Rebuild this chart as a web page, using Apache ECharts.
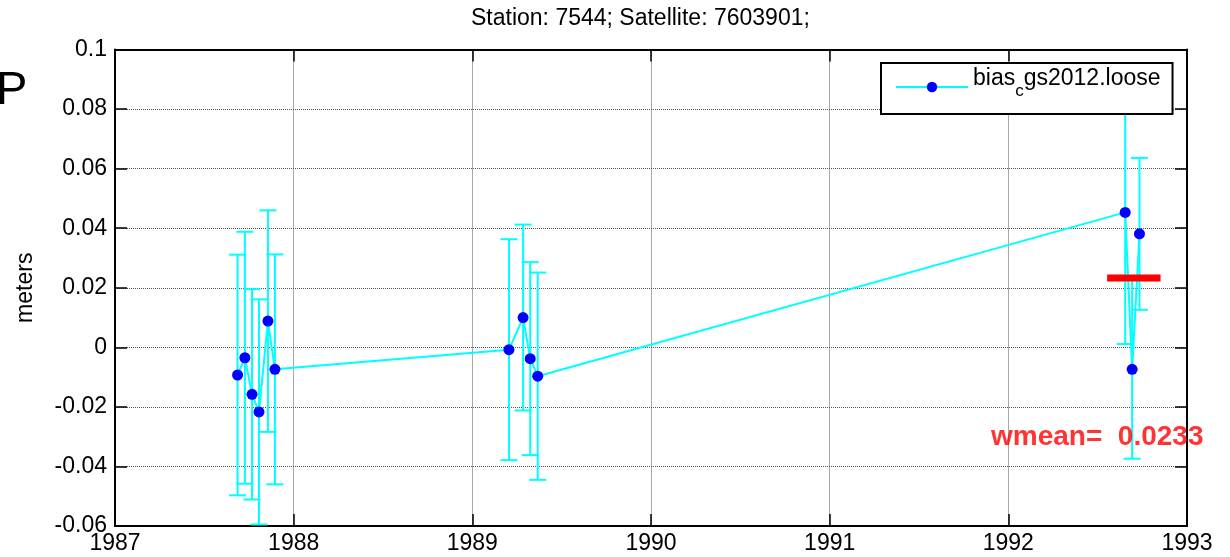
<!DOCTYPE html>
<html>
<head>
<meta charset="utf-8">
<script src="https://cdn.jsdelivr.net/npm/echarts@6/dist/echarts.min.js"></script>
<style>
  html, body { margin: 0; padding: 0; background: #ffffff; }
  #chart { width: 1230px; height: 557px; }
</style>
</head>
<body>
<div id="chart"></div>
<script>
// Epochs (decimal years) of each pass, in time order
const epochs = [
  1987.686, 1987.727, 1987.767, 1987.806, 1987.856, 1987.895,
  1989.205, 1989.284, 1989.324, 1989.366,
  1992.654, 1992.693, 1992.734
];
// Range bias per pass (meters)
const bias = [
  -0.0093, -0.0035, -0.0158, -0.0217, 0.0088, -0.0074,
  -0.0008, 0.0100, -0.0038, -0.0097,
  0.0453, -0.0074, 0.0381
];
// One-sigma uncertainty per pass (meters)
const sigma = [
  0.0404, 0.0423, 0.0353, 0.0378, 0.0372, 0.0386,
  0.0371, 0.0312, 0.0324, 0.0348,
  0.0442, 0.0300, 0.0255
];
// Axis ticks
const xTicks = [1987, 1988, 1989, 1990, 1991, 1992, 1993];
const yTicks = [-0.06, -0.04, -0.02, 0, 0.02, 0.04, 0.06, 0.08, 0.1];
// Weighted mean and the epoch span its bar covers
const wmean = 0.0233;
const wmeanSpan = [1992.553, 1992.852];
const wmeanLabelAt = [1991.903, -0.0303];

const seriesName = 'bias_cgs2012.loose';
const stationId = '7544';
const satelliteId = '7603901';

const FONT = '"Liberation Sans", Arial, Helvetica, sans-serif';
const CYAN = '#00FFFF';
const BLUE = '#0000FF';
const RED = '#FF0000';

const points = epochs.map((t, i) => [t, bias[i]]);
const bars = epochs.map((t, i) => [t, bias[i] - sigma[i], bias[i] + sigma[i]]);

const xMin = xTicks[0], xMax = xTicks[xTicks.length - 1], xStep = xTicks[1] - xTicks[0];
const yMin = yTicks[0], yMax = yTicks[yTicks.length - 1], yStep = +(yTicks[1] - yTicks[0]).toFixed(4);

const gridLine = { show: true, lineStyle: { color: '#555', width: 1, type: 'dotted' } };
const frameLine = { show: true, onZero: false, lineStyle: { color: '#000', width: 2 } };
const innerTick = { show: true, inside: true, length: 12, lineStyle: { color: '#000', width: 1.5 } };
const tickLabel = { color: '#000', fontFamily: FONT, fontSize: 23 };

const chart = echarts.init(document.getElementById('chart'), null, { renderer: 'canvas' });

chart.setOption({
  animation: false,
  backgroundColor: '#ffffff',
  title: {
    text: 'Station: ' + stationId + '; Satellite: ' + satelliteId + ';',
    left: 471,
    top: 7,
    padding: 0,
    textStyle: { color: '#000', fontFamily: FONT, fontSize: 23, fontWeight: 'normal' }
  },
  graphic: [{
    type: 'text',
    x: -4,
    y: 91,
    style: { text: 'P', font: '47px ' + FONT, fill: '#000', verticalAlign: 'middle' }
  }],
  grid: { left: 115, right: 43, top: 49.5, bottom: 31, containLabel: false },
  legend: {
    data: [seriesName],
    left: 881,
    top: 63,
    orient: 'vertical',
    padding: [4, 12, 14, 14],
    backgroundColor: '#ffffff',
    borderColor: '#000',
    borderWidth: 2,
    itemWidth: 72,
    itemHeight: 13,
    selectedMode: false,
    formatter: () => '{n|bias}{s|c}{n|gs2012.loose}',
    textStyle: {
      color: '#000',
      fontFamily: FONT,
      fontSize: 23,
      rich: {
        n: { fontFamily: FONT, fontSize: 23, color: '#000', verticalAlign: 'top' },
        s: { fontFamily: FONT, fontSize: 17, color: '#000', verticalAlign: 'top', padding: [16, 0, 7, 0] }
      }
    }
  },
  xAxis: [{
    type: 'value',
    position: 'bottom',
    min: xMin, max: xMax, interval: xStep,
    axisLine: frameLine,
    axisTick: innerTick,
    axisLabel: Object.assign({ margin: 6, showMinLabel: true, showMaxLabel: true, formatter: v => String(v) }, tickLabel),
    splitLine: gridLine
  }, {
    type: 'value',
    position: 'top',
    min: xMin, max: xMax, interval: xStep,
    axisLine: frameLine,
    axisTick: innerTick,
    axisLabel: { show: false },
    splitLine: { show: false }
  }],
  yAxis: [{
    type: 'value',
    position: 'left',
    min: yMin, max: yMax, interval: yStep,
    name: 'meters',
    nameLocation: 'middle',
    nameGap: 78,
    nameRotate: 90,
    nameTextStyle: { color: '#000', fontFamily: FONT, fontSize: 23 },
    axisLine: frameLine,
    axisTick: innerTick,
    axisLabel: Object.assign({ margin: 8, showMinLabel: true, showMaxLabel: true, formatter: v => String(Math.round(v * 100) / 100) }, tickLabel),
    splitLine: gridLine
  }, {
    type: 'value',
    position: 'right',
    min: yMin, max: yMax, interval: yStep,
    axisLine: frameLine,
    axisTick: innerTick,
    axisLabel: { show: false },
    splitLine: { show: false }
  }],
  series: [{
    // vertical error bars with end caps
    type: 'custom',
    name: 'sigma',
    xAxisIndex: 0, yAxisIndex: 0,
    data: bars,
    encode: { x: 0, y: [1, 2] },
    z: 2,
    renderItem: (params, api) => {
      const t = api.value(0);
      const lo = api.coord([t, api.value(1)]);
      const hi = api.coord([t, api.value(2)]);
      const hw = 8.5;
      const style = { stroke: CYAN, lineWidth: 2, fill: null };
      return {
        type: 'group',
        children: [
          { type: 'line', shape: { x1: lo[0], y1: lo[1], x2: hi[0], y2: hi[1] }, style },
          { type: 'line', shape: { x1: lo[0] - hw, y1: lo[1], x2: lo[0] + hw, y2: lo[1] }, style },
          { type: 'line', shape: { x1: hi[0] - hw, y1: hi[1], x2: hi[0] + hw, y2: hi[1] }, style }
        ]
      };
    }
  }, {
    type: 'line',
    name: seriesName,
    xAxisIndex: 0, yAxisIndex: 0,
    data: points,
    z: 3,
    symbol: 'circle',
    symbolSize: 11,
    showAllSymbol: true,
    lineStyle: { color: CYAN, width: 2 },
    itemStyle: { color: BLUE, borderWidth: 0 },
    emphasis: { disabled: true }
  }, {
    // weighted mean bar
    type: 'line',
    name: 'wmean',
    xAxisIndex: 0, yAxisIndex: 0,
    data: [[wmeanSpan[0], wmean], [wmeanSpan[1], wmean]],
    z: 4,
    symbol: 'none',
    lineStyle: { color: RED, width: 7, cap: 'butt' },
    emphasis: { disabled: true }
  }, {
    type: 'scatter',
    name: 'wmeanLabel',
    xAxisIndex: 0, yAxisIndex: 0,
    data: [wmeanLabelAt],
    symbolSize: 0,
    z: 5,
    silent: true,
    label: {
      show: true,
      position: 'right',
      distance: 0,
      formatter: () => 'wmean=  ' + wmean.toFixed(4),
      color: RED,
      fontFamily: FONT,
      fontSize: 28,
      fontWeight: 'bold'
    }
  }]
});
</script>
</body>
</html>
